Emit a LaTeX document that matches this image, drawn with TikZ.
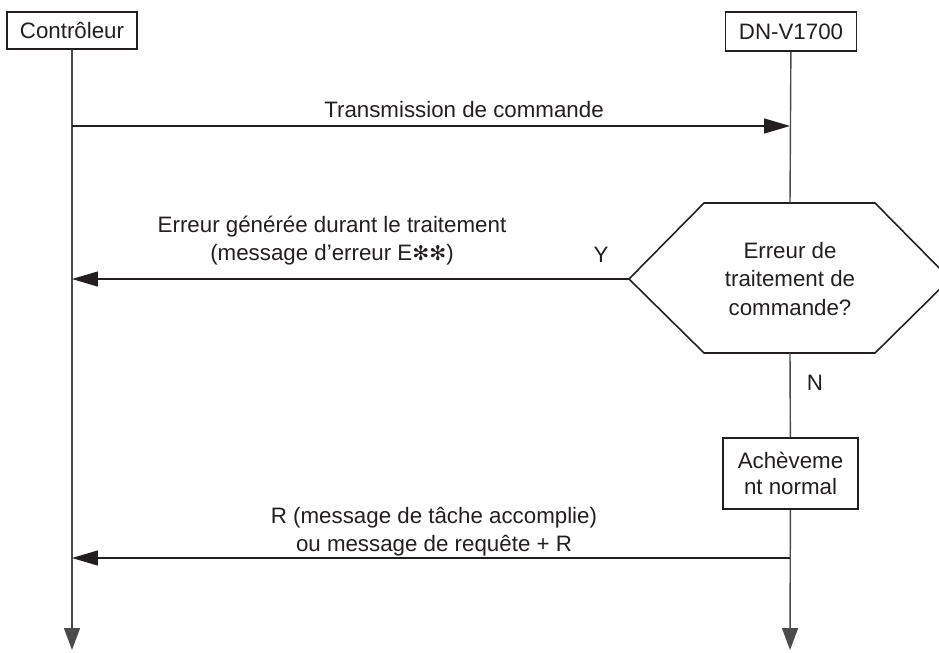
\documentclass[tikz,border=0pt]{standalone}
\usepackage{fontspec}
\setmainfont{Liberation Sans}
\newfontfamily\symfont{DejaVu Sans}
\usetikzlibrary{arrows.meta}

\definecolor{inkblack}{RGB}{35,31,32}
\definecolor{linegray}{RGB}{75,75,75}

\tikzset{
    box/.style={draw=inkblack, line width=0.9pt, fill=white, inner sep=2pt, align=center},
    life/.style={draw=linegray, line width=0.8pt},
    msg/.style={draw=inkblack, line width=0.75pt, -{Triangle[length=0.52cm, width=0.3cm]}},
    downtip/.style={-{Triangle[length=0.44cm, width=0.32cm]}}
}

\begin{document}
\begin{tikzpicture}[x=0.02cm, y=-0.02cm, font=\fontsize{12.7}{16}\selectfont, text=inkblack]
    \clip (0,0) rectangle (939,652);

    % Draw nodes
    \node[box, minimum width=2.6cm, minimum height=0.74cm] (ctrl) at (72,30.5) {Contrôleur};
    \node[box, minimum width=2.62cm, minimum height=0.78cm] (dnv) at (791,31.5) {DN-V1700};
    \node[align=center] (hex) at (790,279) {Erreur de\\traitement de\\commande?};
    \draw[inkblack, line width=0.9pt] (629,279) coordinate (hexW) -- (704,203) -- (875,203)
        -- (950,279) -- (875,353) -- (704,353) -- cycle;
    \coordinate (hexN) at (790,203);
    \coordinate (hexS) at (790,353);
    \node[box, minimum width=2.7cm, minimum height=1.42cm, font=\fontsize{12.7}{15}\selectfont] (ach) at (790.5,473.5) {Achèveme\\nt normal};

    % Draw lifelines
    \coordinate (ctrlEnd) at (72,650);
    \coordinate (dnvEnd) at (790,650);
    \draw[life, downtip] (ctrl) -- (ctrlEnd);
    \draw[life] (dnv) -- (hexN);
    \draw[life] (hexS) -- (ach);
    \draw[life, downtip] (ach) -- (dnvEnd);

    % Draw messages
    \coordinate (cmdL) at (72,126);
    \coordinate (cmdR) at (790,126);
    \coordinate (errL) at (72,279);
    \coordinate (okL) at (72,558);
    \coordinate (okR) at (790,558);
    \draw[msg] (cmdL) -- (cmdR);
    \draw[msg] (hexW) -- (errL);
    \draw[msg] (okR) -- (okL);

    % Labels
    \node (cmdlbl) at (464,110) {Transmission de commande};
    \node[align=center] (errlbl) at (332,241) {Erreur générée durant le traitement\\(message d’erreur E{\symfont\fontsize{11.5}{16}\selectfont ✻✻})};
    \node (yes) at (601,255) {Y};
    \node (no) at (815,383) {N};
    \node[align=center] (oklbl) at (434,531.5) {R (message de tâche accomplie)\\ou message de requête + R};
\end{tikzpicture}
\end{document}
